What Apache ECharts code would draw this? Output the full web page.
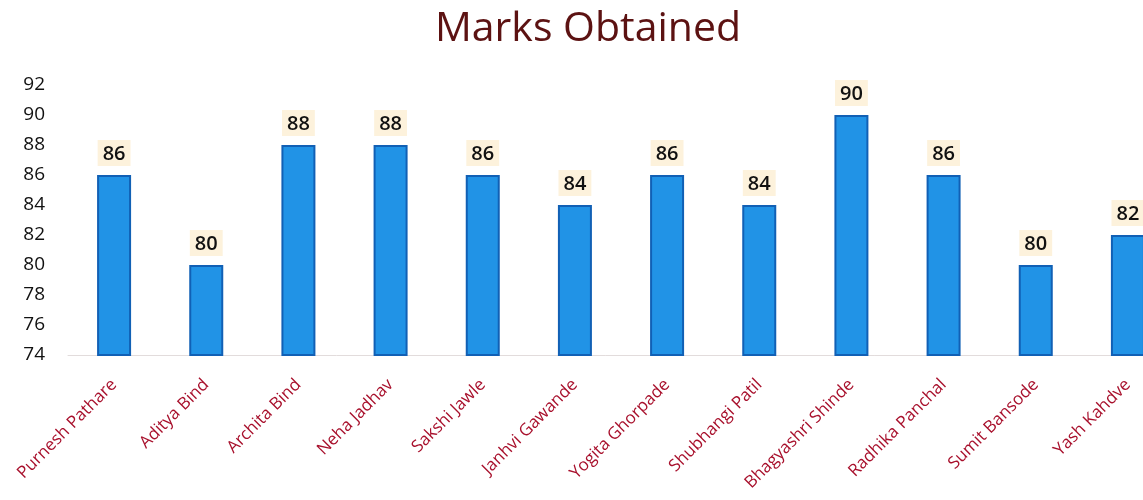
<!DOCTYPE html>
<html>
<head>
<meta charset="utf-8">
<script src="https://cdn.jsdelivr.net/npm/echarts@6/dist/echarts.min.js"></script>
<style>
  html, body { margin: 0; padding: 0; background: #fff; }
  #main { width: 1143px; height: 500px; }
</style>
</head>
<body>
<div id="main"></div>
<script>
// 学生名字
var names = ['Purnesh Pathare', 'Aditya Bind', 'Archita Bind', 'Neha Jadhav', 'Sakshi Jawle', 'Janhvi Gawande',
    'Yogita Ghorpade', 'Shubhangi Patil', 'Bhagyashri Shinde', 'Radhika Panchal', 'Sumit Bansode', 'Yash Kahdve'];
// 分数
var marks = [86, 80, 88, 88, 86, 84, 86, 84, 90, 86, 80, 82];
var yMin = 74, yMax = 92, yStep = 2;

var myChart = echarts.init(document.getElementById('main'));

var option = {
    backgroundColor: '#ffffff',
    title: {
        text: 'Marks Obtained',
        left: 583,
        textAlign: 'center',
        top: 4,
        textStyle: {
            fontFamily: 'Open Sans',
            fontSize: 41,
            fontWeight: 'normal',
            color: '#5c1212'
        }
    },
    grid: {
        left: 68,
        width: 1106,
        top: 85,
        bottom: 145,
        containLabel: false,
        outerBoundsMode: 'none'
    },
    xAxis: {
        type: 'category',
        data: names,
        axisTick: { show: false },
        axisLine: { lineStyle: { color: '#e2dcdc', width: 1 } },
        axisLabel: {
            interval: 0,
            rotate: 45,
            margin: 27,
            fontFamily: 'Open Sans',
            fontSize: 17,
            color: '#a8102c'
        }
    },
    yAxis: {
        type: 'value',
        min: yMin,
        max: yMax,
        interval: yStep,
        splitLine: { show: false },
        axisLine: { show: false },
        axisTick: { show: false },
        axisLabel: {
            margin: 23,
            fontFamily: 'Open Sans',
            fontSize: 19,
            color: '#111'
        }
    },
    series: [{
        name: 'Marks',
        type: 'bar',
        data: marks,
        barWidth: 34,
        itemStyle: {
            color: '#2193e6',
            borderColor: '#1160b5',
            borderWidth: 2
        },
        label: {
            show: true,
            position: 'top',
            distance: 9,
            fontFamily: 'Open Sans',
            fontSize: 20,
            fontWeight: 600,
            color: '#111',
            backgroundColor: '#fdf2dc',
            padding: [4, 5, 2, 5]
        }
    }],
    animation: false
};

myChart.setOption(option);
</script>
</body>
</html>
